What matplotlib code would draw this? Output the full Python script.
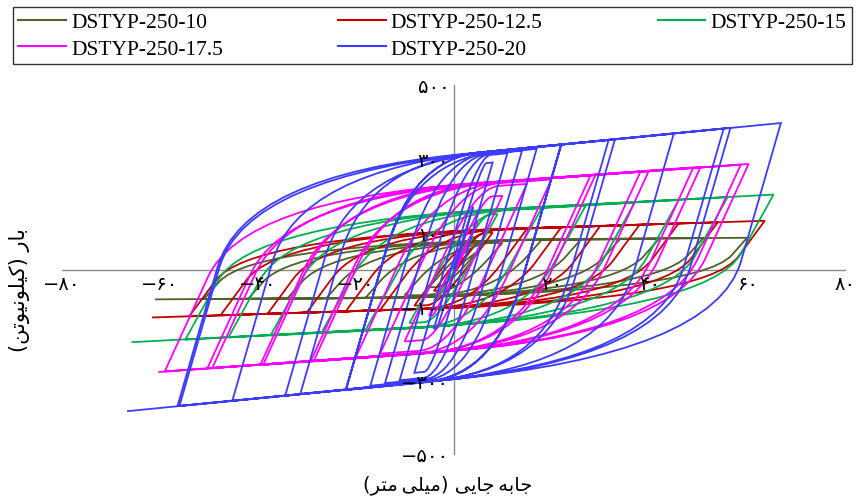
import matplotlib
matplotlib.use("Agg")
import matplotlib.pyplot as plt
from matplotlib.path import Path
from matplotlib.patches import PathPatch
from matplotlib.lines import Line2D

# peak points of each cycle: (d+, F+, d-, F-)  [mm, kN]
names = ["DSTYP-250-10", "DSTYP-250-12.5", "DSTYP-250-15", "DSTYP-250-17.5", "DSTYP-250-20"]
colors = ["#4F6228", "#C00000", "#00B050", "#FF00FF", "#3C3CFF"]

cycles_10 = [(5, 50, -5, -48), (10, 72, -10, -70), (18, 80, -18, -77), (26, 81, -26, -78),
             (34, 82, -34, -79), (42, 83, -42, -80), (51, 85, -51, -80), (60, 86, -61, -81)]
cycles_125 = [(4, 60, -4, -58), (8, 100, -8, -98), (15, 110, -15, -110), (22, 114, -22, -113),
              (30, 118, -30, -117), (38, 121, -38, -120), (46, 125, -47.6, -124),
              (54, 128, -54, -127), (63.6, 132, -61.6, -130)]
cycles_15 = [(4, 90, -4, -85), (9, 150, -9, -145), (18, 166, -18, -165), (27, 173, -27, -172),
             (37, 181, -37.4, -179), (46, 188, -46, -184), (56, 196, -54.8, -190),
             (65.4, 203, -65.8, -197)]
cycles_175 = [(5, 130, -5, -125), (10, 200, -10, -195), (15, 232, -15, -228), (20, 244, -20, -239),
              (28, 255, -28.6, -249), (29, 256, -29.2, -249), (38.2, 265, -38.9, -258),
              (39.9, 267, -39.5, -259), (49, 276, -49.3, -267), (50.5, 278, -50.3, -268),
              (58.7, 284, -59, -276), (60.3, 286, -60.3, -278)]
cycles_20 = [(4, 170, -4, -160), (8, 290, -8, -280), (11, 315, -11, -300), (14, 322, -14, -308),
             (17, 327, -17, -315), (22, 338, -22, -325), (22, 338, -22, -326), (22, 339, -22, -327),
             (31.7, 351, -31.3, -337), (33, 353, -34.4, -342), (45, 368, -45.2, -356),
             (55.2, 382, -56.4, -370), (56.6, 384, -56, -370), (66.9, 397, -66.7, -384)]
all_cycles = [cycles_10, cycles_125, cycles_15, cycles_175, cycles_20]

stiffness = [15, 18, 24, 29, 46]
hardening = [0.1, 0.42, 0.7, 0.95, 1.3]
# where the elastic line turns into the curve (fraction), and how long the curve is
bend_start = [0.3, 0.45, 0.5, 0.55, 0.6]
bend_len = [0.65, 0.5, 0.5, 0.45, 0.45]

xticks = [-80, -60, -40, -20, 0, 20, 40, 60, 80]
yticks = [-500, -300, -100, 100, 300, 500]


def fa(n):
    s = str(n).translate(str.maketrans("0123456789", "۰۱۲۳۴۵۶۷۸۹"))
    return s.replace("-", "\u2212")


# minimal arabic shaping: (isolated, final, initial, medial)
FORMS = {
    "ا": ("\uFE8D", "\uFE8E", None, None),
    "ب": ("\uFE8F", "\uFE90", "\uFE91", "\uFE92"),
    "ت": ("\uFE95", "\uFE96", "\uFE97", "\uFE98"),
    "ج": ("\uFE9D", "\uFE9E", "\uFE9F", "\uFEA0"),
    "ر": ("\uFEAD", "\uFEAE", None, None),
    "ل": ("\uFEDD", "\uFEDE", "\uFEDF", "\uFEE0"),
    "م": ("\uFEE1", "\uFEE2", "\uFEE3", "\uFEE4"),
    "ن": ("\uFEE5", "\uFEE6", "\uFEE7", "\uFEE8"),
    "ه": ("\uFEE9", "\uFEEA", "\uFEEB", "\uFEEC"),
    "و": ("\uFEED", "\uFEEE", None, None),
    "ی": ("\uFBFC", "\uFBFD", "\uFBFE", "\uFBFF"),
    "ک": ("\uFB8E", "\uFB8F", "\uFB90", "\uFB91"),
}


def shape(word):
    out = []
    for i, ch in enumerate(word):
        f = FORMS.get(ch)
        if f is None:
            out.append("\u2009" if ch == "\u200c" else ch)
            continue
        prev = word[i - 1] if i > 0 else None
        nxt = word[i + 1] if i + 1 < len(word) else None
        jp = prev in FORMS and FORMS[prev][2] is not None
        jn = nxt in FORMS and f[2] is not None
        if jp and jn:
            out.append(f[3])
        elif jp:
            out.append(f[1])
        elif jn:
            out.append(f[2])
        else:
            out.append(f[0])
    return "".join(out)[::-1]


def branch(verts, codes, p1, p2, k, h, a, b):
    d1, f1 = p1
    d2, f2 = p2
    dc = (f2 - f1 + k * d1 - h * d2) / (k - h)
    fc = f1 + k * (dc - d1)
    if not (min(d1, d2) < dc < max(d1, d2)):
        verts.append(p2)
        codes.append(Path.LINETO)
        return
    s = (d1 + a * (dc - d1), f1 + a * (fc - f1))
    e = (dc + b * (d2 - dc), fc + b * (f2 - fc))
    verts += [s, (dc, fc), e, p2]
    codes += [Path.LINETO, Path.CURVE3, Path.CURVE3, Path.LINETO]


fig = plt.figure(figsize=(8.59, 5.02), dpi=100)
ax = fig.add_axes([62 / 859, 1 - 455 / 502, 783 / 859, 369 / 502])

for i, cyc in enumerate(all_cycles):
    verts = [(0, 0), (cyc[0][0], cyc[0][1])]
    codes = [Path.MOVETO, Path.LINETO]
    for j, (dp, fp, dn, fn) in enumerate(cyc):
        branch(verts, codes, (dp, fp), (dn, fn), stiffness[i], hardening[i], bend_start[i], bend_len[i])
        if j + 1 < len(cyc):
            nxt = (cyc[j + 1][0], cyc[j + 1][1])
            branch(verts, codes, (dn, fn), nxt, stiffness[i], hardening[i], bend_start[i], bend_len[i])
    ax.add_patch(PathPatch(Path(verts, codes), fill=False, edgecolor=colors[i], lw=1.3, zorder=3 + i))

ax.set_xlim(-80, 80)
ax.set_ylim(-500, 500)
for side in ["top", "right"]:
    ax.spines[side].set_visible(False)
for side in ["left", "bottom"]:
    ax.spines[side].set_position(("data", 0))
    ax.spines[side].set_color("#8a8a8a")
    ax.spines[side].set_linewidth(1.0)
    ax.spines[side].set_zorder(1)

ax.set_xticks(xticks)
ax.set_xticklabels([fa(v) for v in xticks], fontsize=14, family="DejaVu Sans")
ax.set_yticks(yticks)
ax.set_yticklabels([fa(v) for v in yticks], fontsize=14, family="DejaVu Sans")
ax.tick_params(length=0, pad=3)
ax.xaxis.set_zorder(20)
ax.yaxis.set_zorder(20)

xlabel = "(" + shape("میلی\u200cمتر") + ") " + shape("جابه\u200cجایی")
ylabel = "(" + shape("کیلونیوتن") + ") " + shape("بار")
fig.text(448 / 859, 1 - 485 / 502, xlabel, ha="center", va="center", fontsize=14, family="DejaVu Sans")
fig.text(20 / 859, 1 - 290 / 502, ylabel, ha="center", va="center", rotation=90, fontsize=15,
         family="DejaVu Sans")

# legend fills row by row in the picture: reorder for matplotlib's column filling
order = [0, 3, 1, 4, 2]
handles = [Line2D([], [], color=colors[i], lw=1.5) for i in order]
leg = fig.legend(handles, [names[i] for i in order], loc="upper left",
                 bbox_to_anchor=(13 / 859, 1 - 8 / 502), ncol=3,
                 prop={"family": "Liberation Serif", "size": 15.5}, frameon=True, fancybox=False,
                 edgecolor="black", handlelength=2.2, handletextpad=0.25, columnspacing=5.35,
                 labelspacing=0.3, borderpad=0.25, borderaxespad=0)
leg.get_frame().set_linewidth(1.0)

fig.savefig("out.png", dpi=100)
